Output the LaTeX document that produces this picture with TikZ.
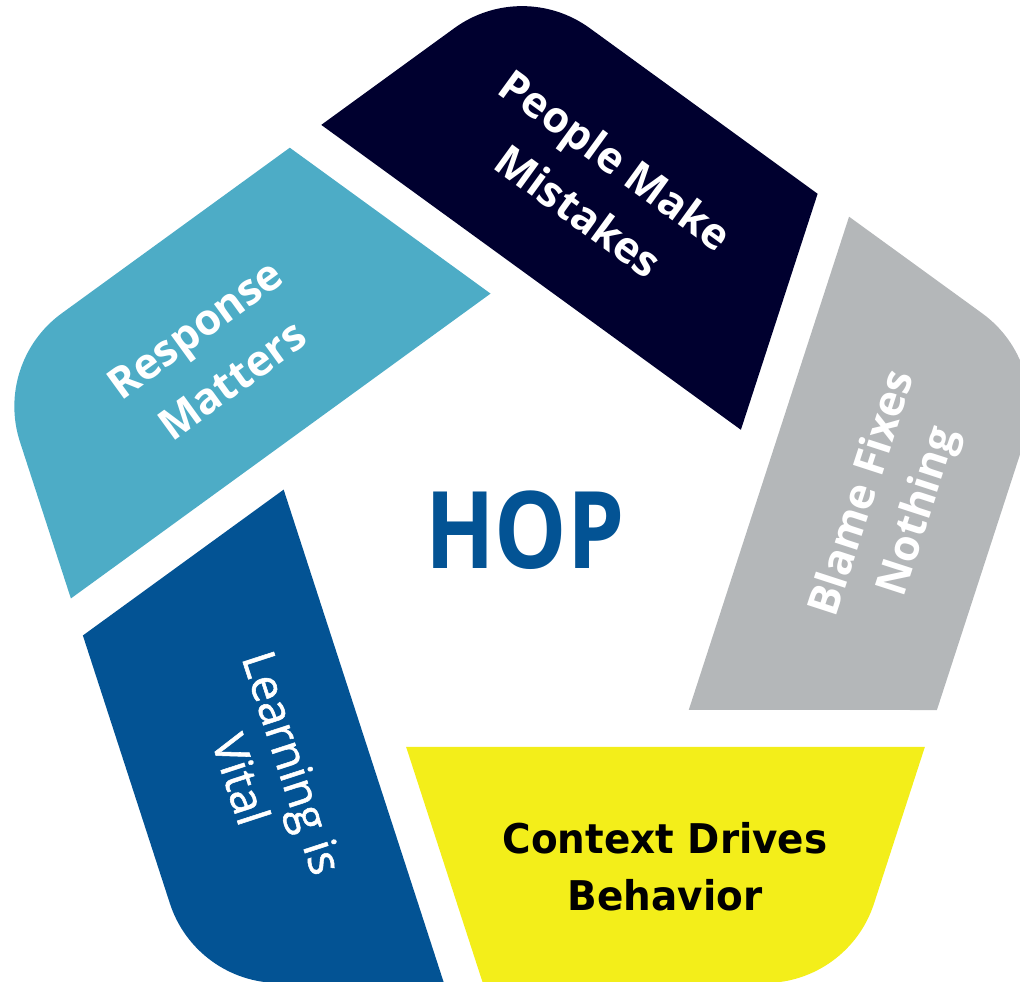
\documentclass[tikz,border=0pt]{standalone}
\usepackage{fontspec}
\setmainfont{Open Sans}
\newfontfamily\contextfont[FakeStretch=0.95]{DejaVu Sans}
\newfontfamily\hopfont[FakeStretch=0.85]{Open Sans}
\newfontfamily\learnfont[FakeBold=1.2]{Open Sans}

\definecolor{hopnavy}{RGB}{0,0,47}
\definecolor{hopgray}{RGB}{180,183,185}
\definecolor{hopyellow}{RGB}{243,238,26}
\definecolor{hopblue}{RGB}{3,83,148}
\definecolor{hopteal}{RGB}{77,172,198}

\tikzset{
  slice/.style={fill=#1},
  label/.style={text=white, align=center, font=\bfseries\fontsize{24.5}{36}\selectfont},
  thinlabel/.style={text=white, align=center, font=\learnfont\fontsize{26}{31}\selectfont},
  darklabel/.style={text=black, align=center, font=\contextfont\bfseries\fontsize{23.3}{32.4}\selectfont},
  title/.style={text=hopblue, font=\hopfont\bfseries\fontsize{61}{61}\selectfont}
}

\begin{document}
\begin{tikzpicture}[x=0.02cm,y=0.02cm]
  \useasboundingbox (-522,-448) rectangle (498,534);

  % five slices, each one the top slice turned by a multiple of 72 degrees
  \foreach \k/\col in {0/hopnavy,1/hopgray,2/hopyellow,3/hopblue,4/hopteal}{
    \fill[slice=\col, rotate=-72*\k]
      (-200.7,409.1) -- (-67.55,505.9)
      arc[start angle=126, end angle=54, radius=115]
      -- (295.6,340.2) -- (218.9,104.2) -- cycle;
  }

  \node[label, rotate=-36] (people) at (77.8:357) {People Make\\Mistakes};
  \node[label, rotate=72, font=\bfseries\fontsize{24.5}{33}\selectfont] (blame) at (370,31) {Blame Fixes\\Nothing};
  \node[darklabel] (context) at (143,-333) {Context Drives\\Behavior};
  \node[thinlabel, rotate=-72] (learning) at (-255,-237) {Learning is\\Vital};
  \node[label, rotate=36] (response) at (-210.2:357) {Response\\Matters};

  \node[title] (hop) at (3,4) {HOP};
\end{tikzpicture}
\end{document}
